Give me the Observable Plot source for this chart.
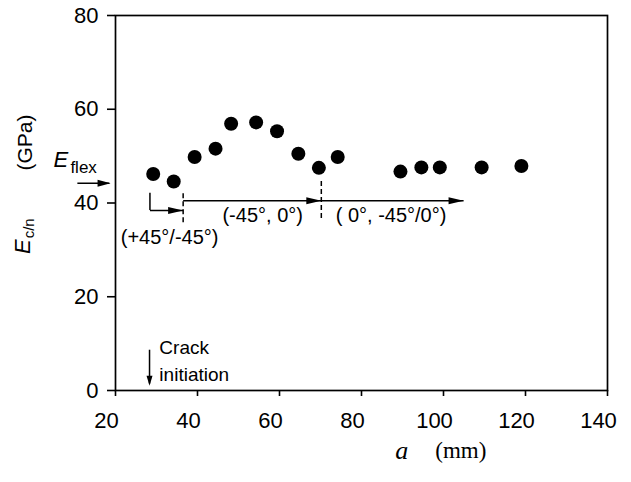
<!DOCTYPE html>
<html><head><meta charset="utf-8">
<script src="https://cdn.jsdelivr.net/npm/d3@7"></script>
<script src="https://cdn.jsdelivr.net/npm/@observablehq/plot@0.6"></script>
<style>body{margin:0;background:#fff} #chart svg{display:block}</style>
</head><body><div id="chart"></div>
<script>
// Crack length a (mm) and E_c/n (GPa)
const crackLength = [29.2, 34.2, 39.3, 44.4, 48.2, 54.3, 59.4, 64.6, 69.6, 74.2, 89.5, 94.6, 99.1, 109.3, 119.0];
const modulus     = [46.2, 44.6, 49.8, 51.6, 56.9, 57.2, 55.3, 50.5, 47.5, 49.8, 46.7, 47.6, 47.6, 47.6, 47.9];
const xTicks = [20, 40, 60, 80, 100, 120, 140];
const yTicks = [0, 20, 40, 60, 80];
const eFlex = 44.2;
const crackInit = 28.3;
const regimeBounds = [28.4, 36.5, 70.2, 104.9];
const regimeArrowY = [38.4, 40.5, 40.5];
const regimeLabels = ["(+45°/-45°)", "(-45°, 0°)", "( 0°, -45°/0°)"];
const regimeLabelX = [33.2, 55.9, 87.2];
const regimeLabelY = [32.6, 37.3, 37.3];

const points = crackLength.map((a, i) => ({a, E: modulus[i]}));
const regimes = regimeLabels.map((label, i) => ({
  label, x1: regimeBounds[i], x2: regimeBounds[i + 1], y: regimeArrowY[i],
  lx: regimeLabelX[i], ly: regimeLabelY[i]
}));

function head(L, W) {
  return {draw(ctx) { ctx.moveTo(0, 0); ctx.lineTo(-L, -W / 2); ctx.lineTo(-L, W / 2); ctx.closePath(); }};
}
const sans = "Liberation Sans, Arial, Helvetica, sans-serif";
const serif = "Liberation Serif, Times New Roman, serif";

const chart = Plot.plot({
  width: 631, height: 482,
  marginLeft: 115, marginRight: 24, marginTop: 15, marginBottom: 92,
  style: {fontFamily: sans, fontSize: "21px", background: "white", color: "black", overflow: "visible"},
  x: {domain: [20, 140]},
  y: {domain: [0, 80]},
  marks: [
    Plot.frame({stroke: "black", strokeWidth: 1.7}),
    Plot.axisY(yTicks, {tickSize: 8, tickPadding: 9, fontSize: 22, strokeWidth: 1.6, label: null}),
    Plot.axisX(xTicks, {tickSize: 6, tickFormat: () => "", strokeWidth: 1.6, label: null}),
    Plot.axisX(xTicks, {tickSize: 0, tickPadding: 22, dx: -9, fontSize: 22, label: null}),
    // data
    Plot.dot(points, {x: "a", y: "E", r: 7, fill: "black"}),
    // E_flex arrow
    Plot.link([eFlex], {x1: 10.7, x2: 18.5, y1: d => d, y2: d => d, stroke: "black", strokeWidth: 1.5}),
    Plot.dot([eFlex], {x: 18.8, y: d => d, r: 5, symbol: head(13, 7), fill: "black"}),
    Plot.text(["E"], {x: 4.9, y: 49.1, textAnchor: "start", fontSize: 22, fontStyle: "italic"}),
    Plot.text(["flex"], {x: 9.0, y: 47.6, textAnchor: "start", fontSize: 17}),
    // regime arrows
    Plot.ruleX([regimeBounds[0]], {y1: 38.4, y2: 42.1, stroke: "black", strokeWidth: 1.5}),
    Plot.ruleX([regimeBounds[1]], {y1: 35.8, y2: 42.2, stroke: "black", strokeWidth: 1.5, strokeDasharray: "5,3"}),
    Plot.ruleX([regimeBounds[2]], {y1: 36.7, y2: 45.2, stroke: "black", strokeWidth: 1.5, strokeDasharray: "5,3"}),
    Plot.link(regimes, {x1: "x1", x2: "x2", y1: "y", y2: "y", stroke: "black", strokeWidth: 1.5}),
    Plot.dot(regimes, {x: "x2", y: "y", r: 5, symbol: head(15, 7), fill: "black"}),
    Plot.text(regimes, {x: "lx", y: "ly", text: "label", fontSize: 20}),
    // crack initiation
    Plot.link([crackInit], {x1: d => d, x2: d => d, y1: 8.7, y2: 1.5, stroke: "black", strokeWidth: 1.5}),
    Plot.dot([crackInit], {x: d => d, y: 1.0, r: 5, symbol: head(10, 6), rotate: 90, fill: "black"}),
    Plot.text(["Crack", "initiation"], {x: 30.7, y: [9.0, 3.4], textAnchor: "start", fontSize: 19}),
    // y-axis title
    Plot.text(["(GPa)"], {x: -1.95, y: 52.9, rotate: -90, fontSize: 21}),
    Plot.text(["E"], {x: -2.5, y: 30.7, rotate: -90, fontSize: 22, fontStyle: "italic"}),
    Plot.text(["c/n"], {x: -1.0, y: 34.6, rotate: -90, fontSize: 15}),
    // x-axis title
    Plot.text(["a"], {x: 89.8, y: -12.8, fontSize: 26, fontStyle: "italic", fontFamily: serif}),
    Plot.text(["(mm)"], {x: 98.0, y: -12.8, textAnchor: "start", fontSize: 23, fontFamily: serif})
  ]
});
document.getElementById("chart").appendChild(chart);
</script>
</body></html>
